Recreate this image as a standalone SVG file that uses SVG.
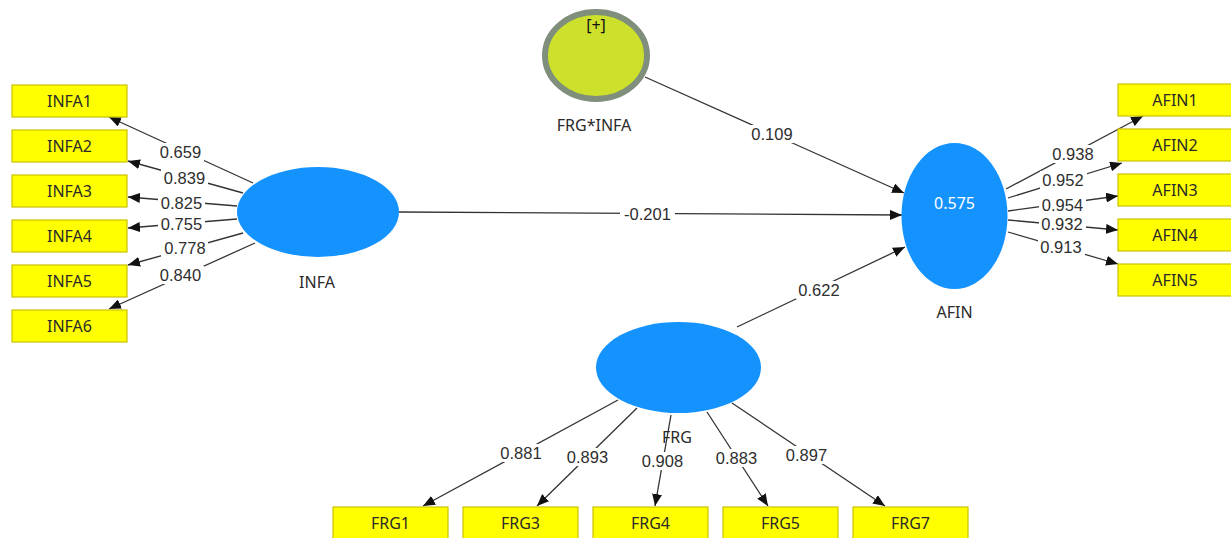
<svg xmlns="http://www.w3.org/2000/svg" width="1231" height="538" viewBox="0 0 1231 538">
<defs>
<marker id="arr" viewBox="0 0 12 10" refX="12" refY="5" markerWidth="12" markerHeight="10" markerUnits="userSpaceOnUse" orient="auto">
<path d="M0,0 L12,5 L0,10 Z" fill="#111"/>
</marker>
<style>
.ind{fill:#ffff00;stroke:#c9c200;stroke-width:1.2}
.lv{fill:#1493ff}
.t{font-family:"Noto Sans","Open Sans","DejaVu Sans",sans-serif;font-size:16px;fill:#2a2a2a;text-anchor:middle}
.lbl{font-family:"Liberation Sans",Arial,sans-serif;font-size:16.5px;fill:#2e2e2e;text-anchor:middle}
.bg{fill:#fff}
.c{stroke:#333;stroke-width:1.3;fill:none;marker-end:url(#arr)}
</style>
</defs>
<rect width="1231" height="538" fill="#fff"/>

<g id="connectors">
<line class="c" x1="253" y1="183" x2="109" y2="117"/>
<line class="c" x1="243" y1="193" x2="128" y2="161"/>
<line class="c" x1="237" y1="206" x2="128" y2="197"/>
<line class="c" x1="237" y1="219" x2="128" y2="228"/>
<line class="c" x1="243" y1="233" x2="128" y2="265"/>
<line class="c" x1="255" y1="243" x2="109" y2="309"/>
<line class="c" x1="1006" y1="189" x2="1143" y2="116"/>
<line class="c" x1="1008" y1="198" x2="1122" y2="163"/>
<line class="c" x1="1008" y1="211" x2="1118" y2="196"/>
<line class="c" x1="1008" y1="220" x2="1118" y2="230"/>
<line class="c" x1="1008" y1="232" x2="1118" y2="264"/>
<line class="c" x1="645" y1="77" x2="904" y2="193"/>
<line class="c" x1="399" y1="212" x2="902" y2="215"/>
<line class="c" x1="737" y1="327" x2="905" y2="247"/>
<line class="c" x1="618" y1="400" x2="423" y2="506"/>
<line class="c" x1="637" y1="408" x2="537" y2="506"/>
<line class="c" x1="671" y1="415" x2="655" y2="506"/>
<line class="c" x1="707" y1="412" x2="768" y2="506"/>
<line class="c" x1="732" y1="403" x2="885" y2="506"/>
</g>

<g id="labels">
<rect class="bg" x="157" y="143" width="47" height="18"/><text class="lbl" x="180.5" y="157.8">0.659</text>
<rect class="bg" x="161" y="169" width="47" height="18"/><text class="lbl" x="184.5" y="183.8">0.839</text>
<rect class="bg" x="158" y="194" width="47" height="18"/><text class="lbl" x="181.5" y="208.8">0.825</text>
<rect class="bg" x="158" y="215" width="47" height="18"/><text class="lbl" x="181.5" y="229.8">0.755</text>
<rect class="bg" x="161" y="239" width="47" height="18"/><text class="lbl" x="185" y="253.8">0.778</text>
<rect class="bg" x="157" y="266" width="47" height="18"/><text class="lbl" x="180.5" y="280.8">0.840</text>
<rect class="bg" x="1050" y="145" width="47" height="18"/><text class="lbl" x="1073" y="159.8">0.938</text>
<rect class="bg" x="1040" y="171" width="47" height="18"/><text class="lbl" x="1063" y="185.8">0.952</text>
<rect class="bg" x="1039" y="196" width="47" height="18"/><text class="lbl" x="1062.5" y="210.8">0.954</text>
<rect class="bg" x="1039" y="215" width="47" height="18"/><text class="lbl" x="1062" y="229.8">0.932</text>
<rect class="bg" x="1038" y="238" width="47" height="18"/><text class="lbl" x="1061" y="252.8">0.913</text>
<rect class="bg" x="749" y="125" width="47" height="18"/><text class="lbl" x="772" y="139.8">0.109</text>
<rect class="bg" x="620" y="205" width="55" height="18"/><text class="lbl" x="647.5" y="219.8">-0.201</text>
<rect class="bg" x="796" y="281" width="47" height="18"/><text class="lbl" x="819" y="295.8">0.622</text>
<rect class="bg" x="498" y="444" width="47" height="18"/><text class="lbl" x="521" y="458.8">0.881</text>
<rect class="bg" x="564" y="448" width="47" height="18"/><text class="lbl" x="587.5" y="462.8">0.893</text>
<rect class="bg" x="639" y="452" width="47" height="18"/><text class="lbl" x="662.5" y="466.8">0.908</text>
<rect class="bg" x="713" y="449" width="47" height="18"/><text class="lbl" x="736.5" y="463.8">0.883</text>
<rect class="bg" x="783" y="446" width="47" height="18"/><text class="lbl" x="806.5" y="460.8">0.897</text>
</g>

<g id="INFA">
<ellipse class="lv" cx="318" cy="212" rx="81" ry="45"/>
<text class="t" x="317" y="287.5">INFA</text>
</g>
<g id="AFIN">
<ellipse class="lv" cx="954.5" cy="216" rx="53" ry="73"/>
<text class="t" x="954.5" y="208.5" style="fill:#fff">0.575</text>
<text class="t" x="954.5" y="317.5">AFIN</text>
</g>
<g id="FRG">
<ellipse class="lv" cx="678.5" cy="367.5" rx="82.5" ry="45.5"/>
<text class="t" x="677" y="442.5">FRG</text>
</g>
<g id="FRG_INFA">
<ellipse cx="596" cy="55.5" rx="51" ry="43.5" fill="#cde12c" stroke="#7f8f7b" stroke-width="6"/>
<text class="t" x="596" y="31" style="fill:#111">[+]</text>
<text class="t" x="594" y="130.5">FRG*INFA</text>
</g>

<g id="INFA1"><rect class="ind" x="12" y="85" width="115" height="32"/><text class="t" x="69.5" y="107">INFA1</text></g>
<g id="INFA2"><rect class="ind" x="12" y="130" width="115" height="32"/><text class="t" x="69.5" y="152">INFA2</text></g>
<g id="INFA3"><rect class="ind" x="12" y="175" width="115" height="32"/><text class="t" x="69.5" y="197">INFA3</text></g>
<g id="INFA4"><rect class="ind" x="12" y="220" width="115" height="32"/><text class="t" x="69.5" y="242">INFA4</text></g>
<g id="INFA5"><rect class="ind" x="12" y="265" width="115" height="32"/><text class="t" x="69.5" y="287">INFA5</text></g>
<g id="INFA6"><rect class="ind" x="12" y="310" width="115" height="32"/><text class="t" x="69.5" y="332">INFA6</text></g>

<g id="AFIN1"><rect class="ind" x="1118" y="84" width="115" height="32"/><text class="t" x="1175" y="106">AFIN1</text></g>
<g id="AFIN2"><rect class="ind" x="1118" y="129" width="115" height="32"/><text class="t" x="1175" y="151">AFIN2</text></g>
<g id="AFIN3"><rect class="ind" x="1118" y="174" width="115" height="32"/><text class="t" x="1175" y="196">AFIN3</text></g>
<g id="AFIN4"><rect class="ind" x="1118" y="219" width="115" height="32"/><text class="t" x="1175" y="241">AFIN4</text></g>
<g id="AFIN5"><rect class="ind" x="1118" y="264" width="115" height="32"/><text class="t" x="1175" y="286">AFIN5</text></g>

<g id="FRG1"><rect class="ind" x="333" y="507" width="115" height="32"/><text class="t" x="390.5" y="529">FRG1</text></g>
<g id="FRG3"><rect class="ind" x="463" y="507" width="115" height="32"/><text class="t" x="520.5" y="529">FRG3</text></g>
<g id="FRG4"><rect class="ind" x="593" y="507" width="115" height="32"/><text class="t" x="650.5" y="529">FRG4</text></g>
<g id="FRG5"><rect class="ind" x="723" y="507" width="115" height="32"/><text class="t" x="780.5" y="529">FRG5</text></g>
<g id="FRG7"><rect class="ind" x="853" y="507" width="115" height="32"/><text class="t" x="910.5" y="529">FRG7</text></g>
</svg>
